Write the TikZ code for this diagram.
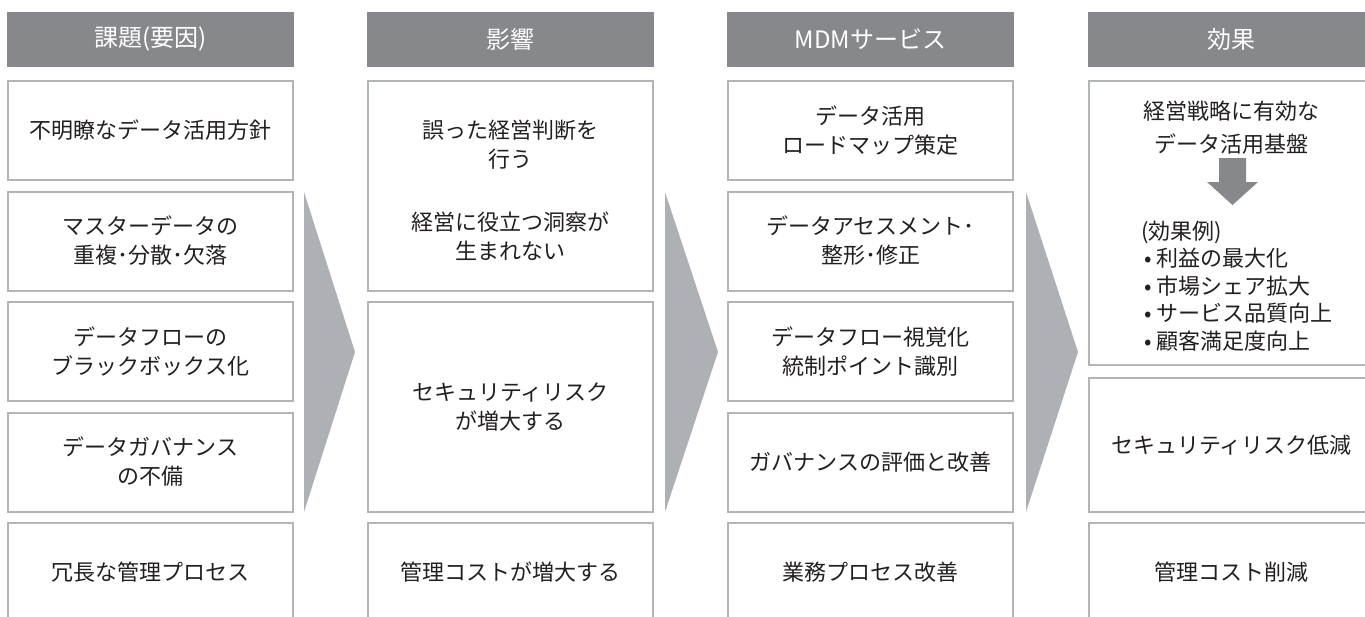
\documentclass[tikz,border=0pt]{standalone}
\usepackage{fontspec}
\setmainfont{Noto Sans CJK JP}
\usepackage{tikz}
\definecolor{headgray}{HTML}{87888C}
\definecolor{linegray}{HTML}{B2B5B8}
\definecolor{arrowgray}{HTML}{ADB0B4}
\definecolor{inkgray}{HTML}{231F20}
\newcommand{\effitem}{\hspace*{3pt}•\hspace{5pt}}

\begin{document}
\begin{tikzpicture}[x=1pt,y=-1pt]
    \tikzstyle{every node}+=[inner sep=0pt, outer sep=0pt, text=inkgray, align=center, font=\fontsize{22}{29}\selectfont]
    \tikzstyle{headbar}=[fill=headgray, minimum width=287pt, minimum height=55pt, text=white, font=\fontsize{24}{28}\selectfont]
    \tikzstyle{cellbox}=[draw=linegray, line width=2pt, fill=white, minimum width=285pt, minimum height=99pt]
    \useasboundingbox (0,0) rectangle (1365,616);
    % headers
    \node [headbar] (head1) at (150.5,39.5) {課題(要因)};
    \node [headbar] (head2) at (510.5,39.5) {影響};
    \node [headbar] (head3) at (870.5,39.5) {MDMサービス};
    \node [headbar] (head4) at (1231.5,39.5) {効果};
    % column 1
    \node [cellbox] (cause1) at (150.5,130.5) {不明瞭なデータ活用方針};
    \node [cellbox] (cause2) at (150.5,241) {マスターデータの\\重複･分散･欠落};
    \node [cellbox] (cause3) at (150.5,351.5) {データフローの\\ブラックボックス化};
    \node [cellbox] (cause4) at (150.5,462) {データガバナンス\\の不備};
    \node [cellbox] (cause5) at (150.5,572.5) {冗長な管理プロセス};
    % column 2
    \node [cellbox, minimum height=209.5pt] (impact1) at (510.5,185.75) {};
    \node (misjudge) at (510.5,190.5) {誤った経営判断を\\行う\\[34pt]経営に役立つ洞察が\\生まれない};
    \node [cellbox, minimum height=209.5pt] (impact2) at (510.5,406.75) {セキュリティリスク\\が増大する};
    \node [cellbox] (impact3) at (510.5,572.5) {管理コストが増大する};
    % column 3
    \node [cellbox] (mdm1) at (870.5,130.5) {データ活用\\ロードマップ策定};
    \node [cellbox] (mdm2) at (870.5,241) {データアセスメント･\\整形･修正};
    \node [cellbox] (mdm3) at (870.5,351.5) {データフロー視覚化\\統制ポイント識別};
    \node [cellbox] (mdm4) at (870.5,462) {ガバナンスの評価と改善};
    \node [cellbox] (mdm5) at (870.5,572.5) {業務プロセス改善};
    % column 4
    \node [cellbox, minimum height=284pt] (effect1) at (1231.5,223) {};
    \node [cellbox, minimum height=133.5pt] (effect2) at (1231.5,444.75) {セキュリティリスク低減};
    \node [cellbox] (effect3) at (1231.5,572.5) {管理コスト削減};
    \node [font=\fontsize{22}{33}\selectfont] (base) at (1231.5,128) {経営戦略に有効な\\データ活用基盤};
    \fill [headgray] (1219,158) -- (1246,158) -- (1246,182) -- (1258,182) -- (1232.5,205) -- (1207,182) -- (1219,182) -- cycle;
    \node [align=left, anchor=west, font=\fontsize{22}{27.5}\selectfont] (examples) at (1141,286) {(効果例)\\\effitem 利益の最大化\\\effitem 市場シェア拡大\\\effitem サービス品質向上\\\effitem 顧客満足度向上};
    % chevrons
    \fill [arrowgray] (304,192) -- (355,352) -- (304,512) -- cycle;
    \fill [arrowgray] (665,192) -- (718,352) -- (665,512) -- cycle;
    \fill [arrowgray] (1026,192) -- (1078,352) -- (1026,512) -- cycle;
\end{tikzpicture}
\end{document}
